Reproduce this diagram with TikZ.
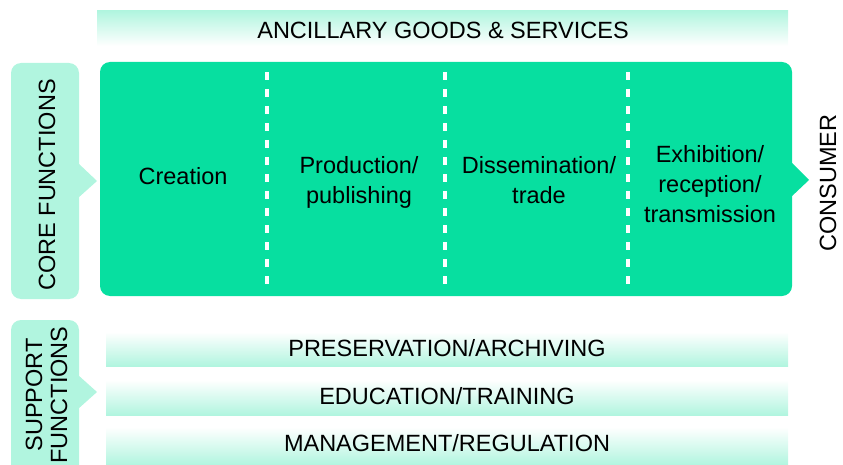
\documentclass[tikz,border=0pt]{standalone}
\usepackage{fontspec}
\setmainfont{Liberation Sans}
\definecolor{mintdark}{HTML}{07DFA0}
\definecolor{mintlight}{HTML}{B1F5DF}
\tikzset{
  lbl/.style={font=\fontsize{23.5}{30}\selectfont, align=center, inner sep=0pt},
  divider/.style={white, line width=3.5pt, dash pattern=on 8pt off 9pt},
}
\begin{document}
\begin{tikzpicture}[x=1pt,y=-1pt]
   \useasboundingbox (0,0) rectangle (843,465);
   \clip (0,0) rectangle (843,465);
   % ancillary
   \shade[top color=mintlight, bottom color=white] (97,11) rectangle (788,46);
   \node[lbl] (ancillary) at (443,30) {ANCILLARY GOODS \& SERVICES};
   % core tab
   \fill[mintlight, rounded corners=10pt] (11,63) rectangle (79,299);
   \fill[mintlight] (78,163) -- (97,181) -- (78,198) -- cycle;
   \node[lbl, rotate=90] (core) at (47,185) {CORE FUNCTIONS};
   % core box
   \fill[mintdark, rounded corners=10pt] (100,62) rectangle (792,296);
   \fill[mintdark] (791,162) -- (809,180) -- (791,197) -- cycle;
   \foreach \x in {267,445,628}
      \draw[divider] (\x,72) -- (\x,288);
   \node[lbl] (creation) at (183,176) {Creation};
   \node[lbl] (production) at (359,182.5) {Production/\\publishing};
   \node[lbl] (dissemination) at (539,180) {Dissemination/\\trade};
   \node[lbl] (exhibition) at (710,184) {Exhibition/\\reception/\\transmission};
   \node[lbl, rotate=90] (consumer) at (828,183) {CONSUMER};
   % support tab
   \fill[mintlight, rounded corners=10pt] (11,320) rectangle (79,480);
   \fill[mintlight] (78,375) -- (97,392) -- (78,409) -- cycle;
   \node[lbl, rotate=90, font=\fontsize{23.5}{25}\selectfont] (support) at (46.5,395) {SUPPORT\\FUNCTIONS};
   % support bars
   \shade[top color=white, bottom color=mintlight] (106,332) rectangle (788,366);
   \shade[top color=white, bottom color=mintlight] (106,380) rectangle (788,415);
   \shade[top color=white, bottom color=mintlight] (106,427) rectangle (788,465);
   \node[lbl] (preservation) at (447,348) {PRESERVATION/ARCHIVING};
   \node[lbl] (education) at (447,396) {EDUCATION/TRAINING};
   \node[lbl] (management) at (447,443) {MANAGEMENT/REGULATION};
\end{tikzpicture}
\end{document}
